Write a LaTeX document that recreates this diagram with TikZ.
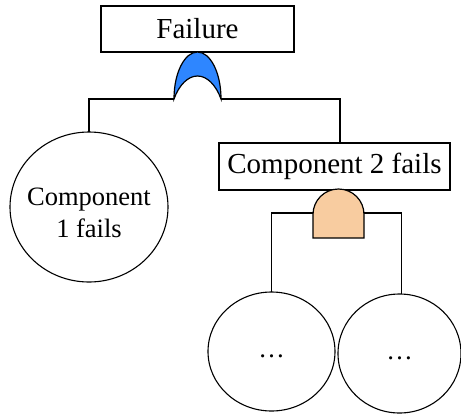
\documentclass[tikz,border=0pt]{standalone}
\usepackage{fontspec}
\setmainfont{Liberation Serif}
\definecolor{orblue}{RGB}{46,134,255}
\definecolor{andpeach}{RGB}{248,204,160}
\begin{document}
\begin{tikzpicture}[x=1pt,y=-1pt,line width=1.5pt,
  evbox/.style={draw,rectangle,inner sep=0pt,line width=1.8pt,font=\fontsize{29}{33}\selectfont},
  evtext/.style={inner sep=0pt,align=center,font=\fontsize{26.5}{32}\selectfont},
  rim/.style={line width=1.1pt},
  wire/.style={line width=1.5pt}]
\useasboundingbox (0,0) rectangle (461,413);

% top event and intermediate event
\node[evbox,minimum width=193pt,minimum height=46pt] (top) at (197.5,29) {Failure};
\node[evbox,minimum width=231pt,minimum height=47pt] (mid) at (334.5,166.5) {Component 2 fails};
\coordinate (midtop) at (340,143);

% basic events: text nodes with their outline ellipses
\node[evtext] (c1) at (89,213) {Component\\1 fails};
\draw[rim] (89,207) ellipse[x radius=79, y radius=75];
\coordinate (c1top) at (89,132);

\node[evtext] (c2a) at (271.5,356) {\dots};
\draw[rim] (271.5,351.5) ellipse[x radius=63.5, y radius=59.5];
\coordinate (c2atop) at (271.5,292);

\node[evtext] (c2b) at (399.5,358) {\dots};
\draw[rim] (399.5,353.5) ellipse[x radius=61.5, y radius=59.5];
\coordinate (c2btop) at (401.5,294);

% OR gate under the top event
\coordinate (orL) at (174,99);
\coordinate (orR) at (221,99);
\coordinate (orT) at (197.5,52);
\filldraw[fill=orblue,line width=1.2pt]
  (orL) .. controls (174,72) and (185,52) .. (orT)
        .. controls (210,52) and (221,72) .. (orR)
        .. controls (216,85) and (207,76) .. (197.5,76)
        .. controls (188,76) and (179,85) .. (orL) -- cycle;

% AND gate under the intermediate event
\coordinate (andL) at (313,213);
\coordinate (andR) at (364,213);
\filldraw[fill=andpeach,line width=1.2pt]
  (313,238) -- (313,214.5) arc[start angle=180,end angle=0,x radius=25.5,y radius=-25.5]
  -- (364,238) -- cycle;

% connectors
\draw[wire] (c1top) |- (orL);
\draw[wire] (orR) -| (midtop);
\draw[wire] (c2atop) |- (andL);
\draw[wire] (andR) -| (c2btop);
\end{tikzpicture}
\end{document}
